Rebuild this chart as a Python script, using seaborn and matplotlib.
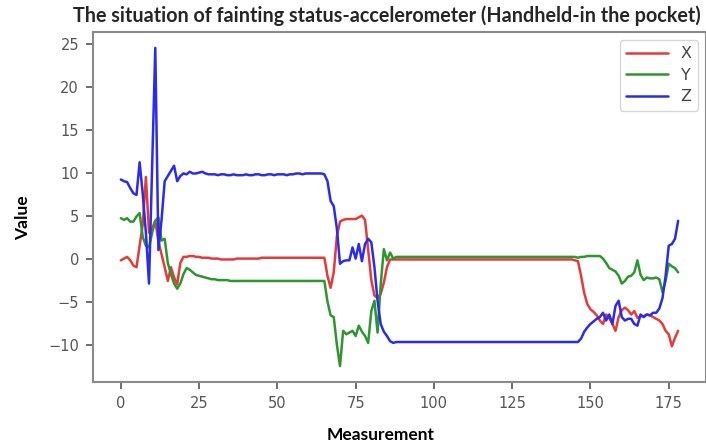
import matplotlib
matplotlib.use("Agg")
import matplotlib.pyplot as plt
import seaborn as sns
import pandas as pd
import numpy as np

title = "The situation of fainting status-accelerometer (Handheld-in the pocket)"
series_names = ["X", "Y", "Z"]

x_values = [
    -0.2, 0.0, 0.2, -0.2, -0.8, -1.0, 1.5, 4.0, 9.5, 3.0,
    3.5, 4.4, 2.0, 0.5, -1.0, -2.6, -1.0, -2.2, -3.0, -0.5,
    0.2, 0.2, 0.3, 0.3, 0.2, 0.2, 0.1, 0.1, 0.1, 0.0,
    0.0, 0.0, -0.1, -0.1, -0.1, -0.1, -0.1, 0.0, 0.0, 0.0,
    0.0, 0.0, 0.0, 0.0, 0.0, 0.1, 0.1, 0.1, 0.1, 0.1,
    0.1, 0.1, 0.1, 0.1, 0.1, 0.1, 0.1, 0.1, 0.1, 0.1,
    0.1, 0.1, 0.1, 0.1, 0.1, 0.1, -2.0, -3.4, -1.6, 2.6,
    4.3, 4.5, 4.6, 4.6, 4.6, 4.6, 4.8, 5.0, 4.5, 1.0,
    -2.5, -4.3, -4.6, -4.1, -2.8, -1.0, -0.1, -0.1, -0.1, -0.1,
    -0.1, -0.1, -0.1, -0.1, -0.1, -0.1, -0.1, -0.1, -0.1, -0.1,
    -0.1, -0.1, -0.1, -0.1, -0.1, -0.1, -0.1, -0.1, -0.1, -0.1,
    -0.1, -0.1, -0.1, -0.1, -0.1, -0.1, -0.1, -0.1, -0.1, -0.1,
    -0.1, -0.1, -0.1, -0.1, -0.1, -0.1, -0.1, -0.1, -0.1, -0.1,
    -0.1, -0.1, -0.1, -0.1, -0.1, -0.1, -0.1, -0.1, -0.1, -0.1,
    -0.1, -0.1, -0.1, -0.1, -0.1, -0.2, -0.3, -2.0, -4.0, -5.3,
    -5.9, -6.2, -6.6, -7.2, -7.6, -6.5, -6.9, -7.6, -8.4, -6.8,
    -6.0, -5.7, -6.0, -6.5, -6.1, -6.9, -6.7, -6.7, -6.5, -6.6,
    -6.8, -7.0, -7.2, -7.6, -8.4, -8.8, -10.2, -9.2, -8.4,
]

y_values = [
    4.7, 4.5, 4.7, 4.3, 4.3, 4.9, 5.3, 2.5, 1.5, 1.3,
    3.0, 4.4, 4.8, 2.1, 2.3, -0.5, -1.8, -2.9, -3.5, -2.9,
    -1.8, -1.1, -1.3, -1.6, -1.9, -2.0, -2.1, -2.2, -2.3, -2.4,
    -2.4, -2.5, -2.5, -2.5, -2.5, -2.6, -2.6, -2.6, -2.6, -2.6,
    -2.6, -2.6, -2.6, -2.6, -2.6, -2.6, -2.6, -2.6, -2.6, -2.6,
    -2.6, -2.6, -2.6, -2.6, -2.6, -2.6, -2.6, -2.6, -2.6, -2.6,
    -2.6, -2.6, -2.6, -2.6, -2.6, -2.6, -5.0, -6.6, -6.8, -10.0,
    -12.5, -8.4, -8.8, -8.6, -8.4, -9.0, -7.8, -8.5, -9.0, -9.8,
    -6.1, -4.9, -8.6, -3.0, 1.1, -0.2, 0.7, 0.0, 0.2, 0.2,
    0.2, 0.2, 0.2, 0.2, 0.2, 0.2, 0.2, 0.2, 0.2, 0.2,
    0.2, 0.2, 0.2, 0.2, 0.2, 0.2, 0.2, 0.2, 0.2, 0.2,
    0.2, 0.2, 0.2, 0.2, 0.2, 0.2, 0.2, 0.2, 0.2, 0.2,
    0.2, 0.2, 0.2, 0.2, 0.2, 0.2, 0.2, 0.2, 0.2, 0.2,
    0.2, 0.2, 0.2, 0.2, 0.2, 0.2, 0.2, 0.2, 0.2, 0.2,
    0.2, 0.2, 0.2, 0.2, 0.2, 0.2, 0.1, 0.2, 0.2, 0.3,
    0.3, 0.3, 0.3, 0.3, 0.0, -0.5, -1.1, -1.3, -1.5, -2.0,
    -2.9, -2.6, -2.1, -2.0, -1.6, -0.2, -1.9, -2.5, -2.2, -2.3,
    -2.3, -2.2, -2.4, -3.9, -2.6, -0.6, -0.9, -1.1, -1.6,
]

z_values = [
    9.2, 9.0, 8.9, 8.2, 7.6, 7.4, 11.2, 7.5, 3.0, -2.9,
    11.0, 24.5, 1.0, 4.5, 9.0, 9.6, 10.2, 10.8, 9.0, 9.6,
    9.9, 9.8, 10.1, 9.9, 9.9, 10.0, 10.1, 9.9, 9.8, 9.8,
    9.8, 9.7, 9.8, 9.8, 9.7, 9.7, 9.8, 9.7, 9.7, 9.7,
    9.8, 9.7, 9.7, 9.8, 9.8, 9.7, 9.7, 9.8, 9.8, 9.7,
    9.8, 9.8, 9.8, 9.7, 9.8, 9.8, 9.9, 9.9, 9.8, 9.9,
    9.9, 9.9, 9.9, 9.9, 9.9, 9.8, 9.0, 6.7, 6.1, 3.5,
    -0.6, -0.3, -0.2, -0.2, 1.3, 0.0, 1.7, -0.3, 1.7, 2.3,
    1.9, -1.0, -4.9, -7.6, -8.5, -9.0, -9.6, -9.8, -9.7, -9.7,
    -9.7, -9.7, -9.7, -9.7, -9.7, -9.7, -9.7, -9.7, -9.7, -9.7,
    -9.7, -9.7, -9.7, -9.7, -9.7, -9.7, -9.7, -9.7, -9.7, -9.7,
    -9.7, -9.7, -9.7, -9.7, -9.7, -9.7, -9.7, -9.7, -9.7, -9.7,
    -9.7, -9.7, -9.7, -9.7, -9.7, -9.7, -9.7, -9.7, -9.7, -9.7,
    -9.7, -9.7, -9.7, -9.7, -9.7, -9.7, -9.7, -9.7, -9.7, -9.7,
    -9.7, -9.7, -9.7, -9.7, -9.7, -9.7, -9.7, -9.3, -8.5, -8.0,
    -7.6, -7.3, -7.0, -6.8, -6.3, -7.2, -6.5, -7.6, -5.5, -4.9,
    -6.8, -7.2, -7.0, -7.0, -7.6, -7.8, -6.5, -6.8, -6.5, -6.6,
    -6.3, -6.3, -5.8, -4.6, -2.0, 1.5, 1.7, 2.3, 4.4,
]

x_ticks = [0, 25, 50, 75, 100, 125, 150, 175]
y_ticks = [-10, -5, 0, 5, 10, 15, 20, 25]
colors = {"X": "#e63a3a", "Y": "#2e962e", "Z": "#2b2bec"}

n = len(x_values)
df = pd.DataFrame({
    "Measurement": list(range(n)) * 3,
    "Value": x_values + y_values + z_values,
    "Axis": ["X"] * n + ["Y"] * n + ["Z"] * n,
})

sns.set_theme(style="ticks")
plt.rcParams["font.family"] = ["DejaVu Sans"]

fig = plt.figure(figsize=(7.06, 4.47), dpi=100)
ax = fig.add_axes([0.1317, 0.1454, 0.8683, 0.7830])

sns.lineplot(data=df, x="Measurement", y="Value", hue="Axis", palette=colors,
             linewidth=1.8, ax=ax, estimator=None)

ax.set_xticks(x_ticks)
ax.set_yticks(y_ticks)
ax.margins(x=0.05, y=0.05)
ax.tick_params(colors="#555555", labelsize=10.5, length=5, width=1.2, pad=5)
for sp in ax.spines.values():
    sp.set_color("#8a8a8a")
    sp.set_linewidth(1.5)

ax.set_xlabel("Measurement", fontsize=12.5, fontweight="bold", family="Lato", color="black")
ax.set_ylabel("Value", fontsize=12.5, fontweight="bold", family="Lato", color="black")
ax.xaxis.set_label_coords((381 - 93) / 613, -(427 - 382) / 350)
ax.yaxis.set_label_coords(-(93 - 31) / 613, 0.47)
ax.set_title(title, fontsize=14.2, fontweight="bold", family="Lato", x=(387 - 93) / 613, pad=7)

leg = ax.legend(loc="upper right", fontsize=11.5, handlelength=2.6, frameon=True,
                borderaxespad=0.5, labelspacing=0.4, title=None)
leg.get_frame().set_edgecolor("#cccccc")
for t in leg.get_texts():
    t.set_color("#444444")

fig.savefig("out.png", dpi=100)
